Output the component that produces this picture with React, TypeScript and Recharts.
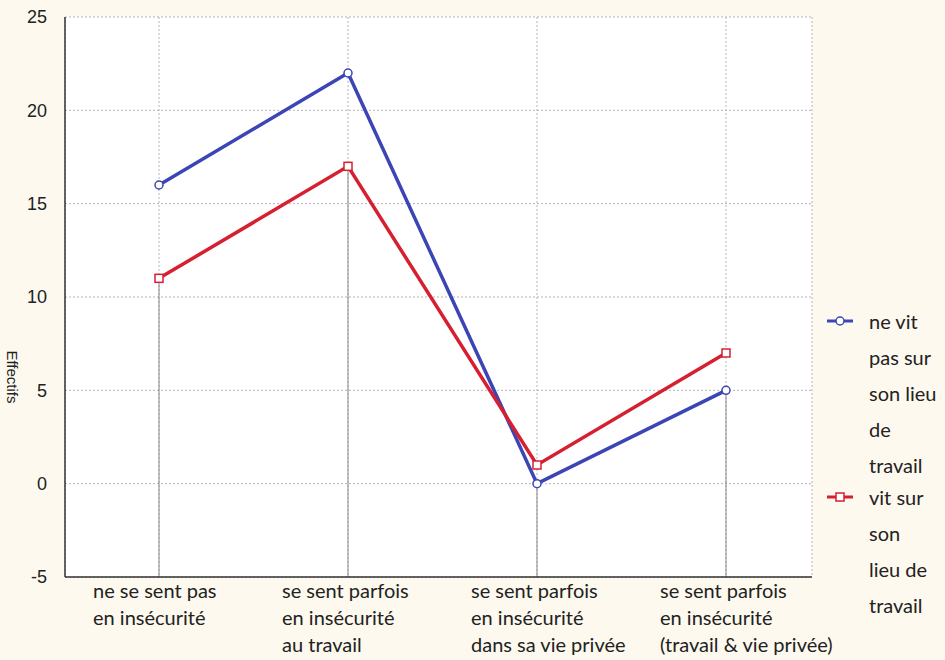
import {
  LineChart,
  Line,
  XAxis,
  YAxis,
  CartesianGrid,
  ReferenceLine,
} from 'recharts';

// categories (x axis), each label is split on lines
const categories = [
  'ne se sent pas|en insécurité',
  'se sent parfois|en insécurité|au travail',
  'se sent parfois|en insécurité|dans sa vie privée',
  'se sent parfois|en insécurité|(travail & vie privée)',
];

const nePasVivre = [16, 22, 0, 5];
const vitSurLieu = [11, 17, 1, 7];

const yTicks = [-5, 0, 5, 10, 15, 20, 25];

const seriesNames = ['ne vit|pas sur|son lieu|de|travail', 'vit sur|son|lieu de|travail'];

const BLUE = '#3b45b5';
const RED = '#d61f30';

const data = categories.map((cat, i) => ({
  cat,
  a: nePasVivre[i],
  b: vitSurLieu[i],
  low: Math.min(nePasVivre[i], vitSurLieu[i]),
}));

const labelFont = 'Lato, "Open Sans", sans-serif';
const numFont = '"Liberation Sans", Arial, sans-serif';

function CategoryTick(props: any) {
  const { x, y, payload } = props;
  const lines: string[] = String(payload.value).split('|');
  return (
    <text x={x - 66} y={y} fontFamily={labelFont} fontSize={20} fill="#222">
      {lines.map((l, i) => (
        <tspan key={i} x={x - 66} dy={i === 0 ? 13 : 27}>
          {l}
        </tspan>
      ))}
    </text>
  );
}

function CircleDot(props: any) {
  const { cx, cy } = props;
  if (cx == null || cy == null) return null;
  return <circle cx={cx} cy={cy} r={4} fill="#fff" stroke={BLUE} strokeWidth={1.5} />;
}

function SquareDot(props: any) {
  const { cx, cy } = props;
  if (cx == null || cy == null) return null;
  return <rect x={cx - 4} y={cy - 4} width={8} height={8} fill="#fff" stroke={RED} strokeWidth={1.5} />;
}

const legendItems = [
  { name: seriesNames[0], color: BLUE, square: false },
  { name: seriesNames[1], color: RED, square: true },
];

function LegendBox() {
  return (
    <div
      style={{
        position: 'absolute',
        left: 823,
        top: 305,
        width: 122,
        fontFamily: labelFont,
        fontSize: 20,
        color: '#222',
      }}
    >
      {legendItems.map((p, i) => (
        <div key={i} style={{ display: 'flex', marginBottom: -2 }}>
          <svg width={46} height={30} style={{ flex: 'none' }}>
            <line x1={4} y1={16} x2={30} y2={16} stroke={p.color} strokeWidth={3} />
            {p.square ? (
              <rect x={13} y={12} width={8} height={8} fill="#fff" stroke={p.color} strokeWidth={1.5} />
            ) : (
              <circle cx={17} cy={16} r={4} fill="#fff" stroke={p.color} strokeWidth={1.5} />
            )}
          </svg>
          <div style={{ lineHeight: '36px', marginTop: -2 }}>
            {p.name.split('|').map((l, j) => (
              <div key={j}>{l}</div>
            ))}
          </div>
        </div>
      ))}
    </div>
  );
}

export default function App() {
  return (
    <div style={{ position: 'absolute', left: 0, top: 0, width: 945, height: 660, background: '#fdf9ee' }}>
      <LineChart
        width={945}
        height={660}
        data={data}
        margin={{ top: 17, right: 133, bottom: 0, left: 20 }}
      >
        <CartesianGrid fill="#ffffff" stroke="#b5b5b5" strokeDasharray="2 2" />
        <XAxis
          dataKey="cat"
          padding={{ left: 94, right: 86 }}
          tickLine={false}
          axisLine={{ stroke: '#333', strokeWidth: 1.5 }}
          interval={0}
          tick={<CategoryTick />}
          height={83}
        />
        <XAxis
          xAxisId="top"
          orientation="top"
          dataKey="cat"
          padding={{ left: 94, right: 86 }}
          tick={false}
          tickLine={false}
          axisLine={{ stroke: '#333', strokeWidth: 1.5 }}
          height={0}
        />
        <YAxis
          width={45}
          domain={[-5, 25]}
          ticks={yTicks}
          tickLine={false}
          axisLine={{ stroke: '#333', strokeWidth: 1.5 }}
          interval={0}
          tick={{ fontFamily: numFont, fontSize: 18, fill: '#222' }}
          tickMargin={12}
          label={({ viewBox }: any) => {
            const cy = viewBox.y + viewBox.height / 2 + 80;
            return (
              <text
                x={12}
                y={cy}
                transform={`rotate(90, 12, ${cy})`}
                textAnchor="middle"
                dominantBaseline="central"
                fontFamily={numFont}
                fontSize={15}
                fill="#222"
              >
                Effectifs
              </text>
            );
          }}
        />
        <YAxis
          yAxisId="right"
          orientation="right"
          width={0}
          domain={[-5, 25]}
          ticks={yTicks}
          tick={false}
          tickLine={false}
          axisLine={{ stroke: '#333', strokeWidth: 1.5 }}
        />
        {data.map((d) => (
          <ReferenceLine
            key={d.cat}
            segment={[
              { x: d.cat, y: d.low },
              { x: d.cat, y: -5 },
            ]}
            stroke="#888"
            strokeWidth={1}
          />
        ))}
        <Line
          dataKey="a"
          stroke={BLUE}
          strokeWidth={3.5}
          dot={<CircleDot />}
          activeDot={false}
          isAnimationActive={false}
        />
        <Line
          dataKey="b"
          stroke={RED}
          strokeWidth={3.5}
          dot={<SquareDot />}
          activeDot={false}
          isAnimationActive={false}
        />
      </LineChart>
      <LegendBox />
    </div>
  );
}
